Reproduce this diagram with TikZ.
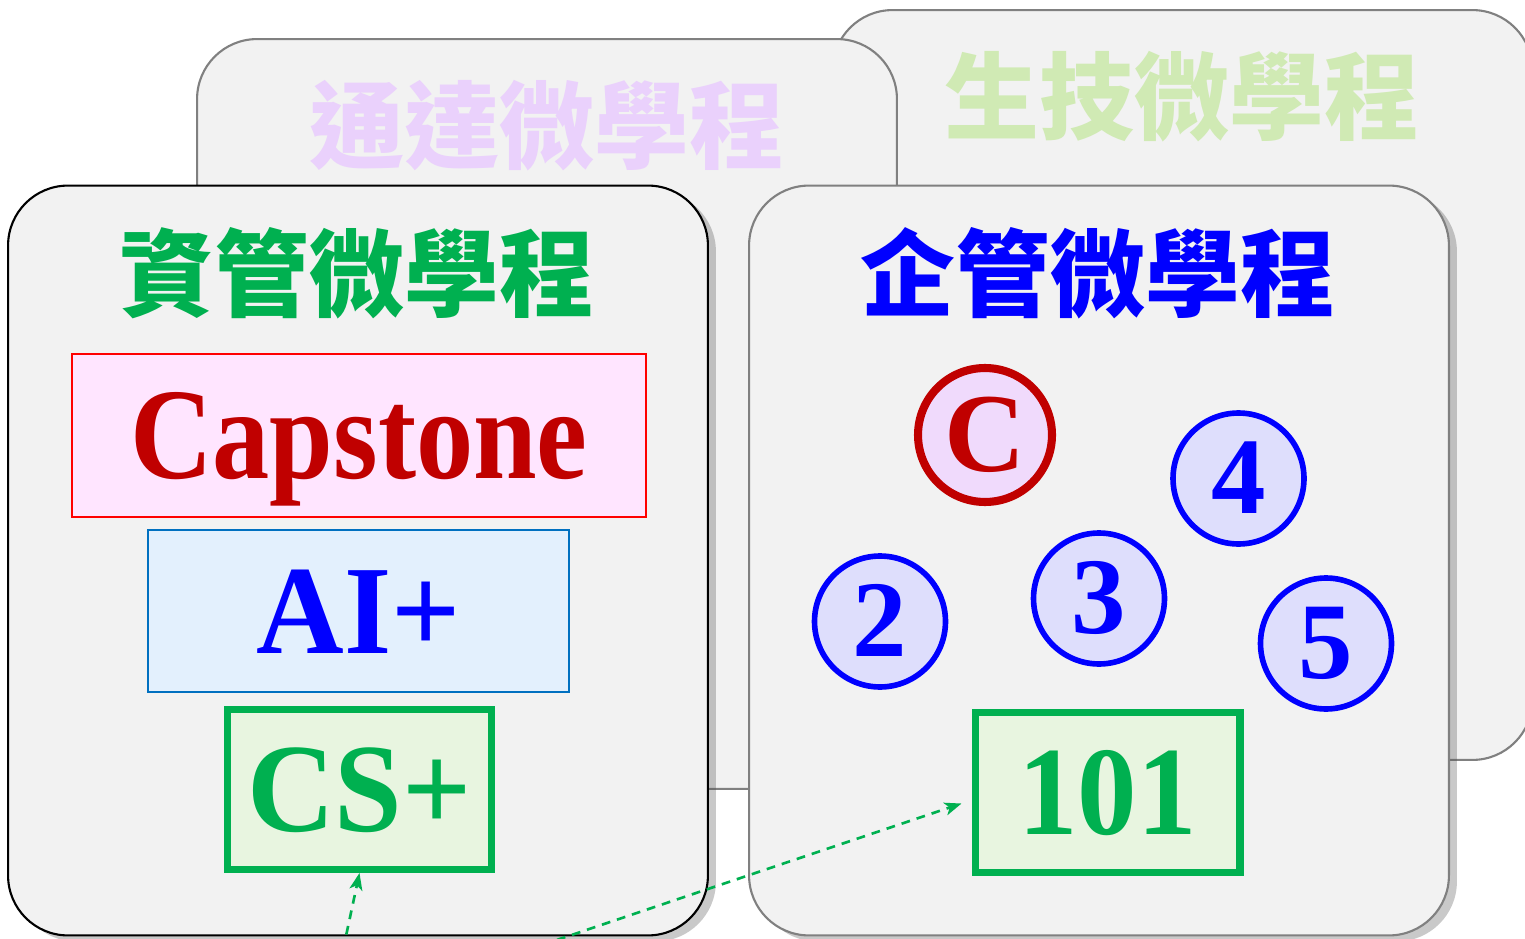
\documentclass[tikz,border=0pt]{standalone}
\usepackage{fontspec}
\setmainfont{Liberation Serif}
\newfontfamily\cjk{Noto Sans CJK TC}
\usetikzlibrary{shadows,arrows.meta,calc}
\definecolor{panelbg}{HTML}{F2F2F2}
\definecolor{panelgray}{HTML}{808080}
\definecolor{zgreen}{HTML}{00B050}
\definecolor{zblue}{HTML}{0000FF}
\definecolor{zred}{HTML}{C00000}
\definecolor{tdpurple}{HTML}{EAD1FC}
\definecolor{sjgreen}{HTML}{D0EAB4}
\definecolor{capfill}{HTML}{FFE5FF}
\definecolor{aifill}{HTML}{E3F0FD}
\definecolor{aiborder}{HTML}{0070C0}
\definecolor{csfill}{HTML}{E8F5E0}
\definecolor{cfill}{HTML}{F0DAFC}
\definecolor{bfill}{HTML}{DEDEFC}
\tikzset{
  panel/.style={draw=panelgray, line width=1.2pt, fill=panelbg, rounded corners=1.2cm,
    minimum width=14cm, minimum height=15cm, inner sep=0pt},
  frontshadow/.style={drop shadow={shadow xshift=0.16cm, shadow yshift=-0.12cm, opacity=0.3, fill=black!70}},
  cjktitle/.style={font=\cjk\bfseries\fontsize{54pt}{54pt}\selectfont, inner sep=0pt},
  latinbig/.style={font=\bfseries\fontsize{#1}{#1}\selectfont, text depth=0pt, inner sep=0pt},
  progbox/.style={rectangle, inner sep=0pt},
  bcirc/.style={circle, draw=zblue, line width=3.2pt, fill=bfill, minimum size=2.62cm, inner sep=0pt,
    text=zblue, font=\bfseries\fontsize{62pt}{62pt}\selectfont, text height=1.4cm, text depth=0pt},
  link/.style={draw=zgreen, line width=1.5pt, dash pattern=on 5pt off 4pt,
    -{Stealth[length=0.34cm, width=0.26cm, inset=0.09cm]}}
}
\begin{document}
\begin{tikzpicture}[x=0.02cm,y=-0.02cm]
\useasboundingbox (0,0) rectangle (1525,939);
% back panels
\node[panel] (sj) at (1182.5,385) {};
\node[panel] (td) at (547,414) {};
\node[cjktitle, text=sjgreen] (sjt) at (1182,97) {生技微學程};
\node[cjktitle, text=tdpurple] (tdt) at (547,126) {通達微學程};
% front panels
\node[panel, draw=black, frontshadow] (zg) at (358,560.5) {};
\node[panel, frontshadow] (qg) at (1099,560.5) {};
\node[cjktitle, text=zgreen] (zgt) at (357,273) {資管微學程};
\node[cjktitle, text=zblue] (qgt) at (1098,273) {企管微學程};
% left program boxes
\node[progbox, draw=red, line width=1.3pt, fill=capfill, minimum width=11.48cm, minimum height=3.26cm,
  text=zred, latinbig=74pt, text height=1.74cm] (cap) at (359,435.5)
  {\scalebox{0.88}[1]{Capstone}};
\node[progbox, draw=aiborder, line width=1.2pt, fill=aifill, minimum width=8.42cm, minimum height=3.24cm,
  text=zblue, latinbig=72pt, text height=1.72cm] (ai) at (358.5,611)
  {\scalebox{0.96}[1]{AI+}};
\node[progbox, draw=zgreen, line width=4pt, fill=csfill, minimum width=5.3cm, minimum height=3.2cm,
  text=zgreen, latinbig=72pt, text height=1.7cm] (cs) at (359.5,789.5)
  {\scalebox{0.96}[1]{CS+}};
% right program items
\node[circle, draw=zred, line width=4.6pt, fill=cfill, minimum size=2.68cm, inner sep=0pt,
  text=zred, font=\bfseries\fontsize{64pt}{64pt}\selectfont, text height=1.48cm, text depth=0pt] (cc) at (985,435) {C};
\node[bcirc] (c4) at (1238.5,478.5) {4};
\node[bcirc] (c2) at (880,621.5) {2};
\node[bcirc] (c3) at (1099,598.5) {3};
\node[bcirc] (c5) at (1326,643.5) {5};
\node[progbox, draw=zgreen, line width=4pt, fill=csfill, minimum width=5.3cm, minimum height=3.2cm,
  text=zgreen, latinbig=72pt, text height=1.7cm] (one) at (1107.5,792.5)
  {\scalebox{0.94}[1]{101}};
% dashed links
\coordinate (s1) at (343,950);
\coordinate (s2) at (527,950);
\coordinate (t2) at ($(one.west)+(-10,11)$);
\draw[link] (s1) -- (cs.south);
\draw[link] (s2) -- (t2);
\end{tikzpicture}
\end{document}
